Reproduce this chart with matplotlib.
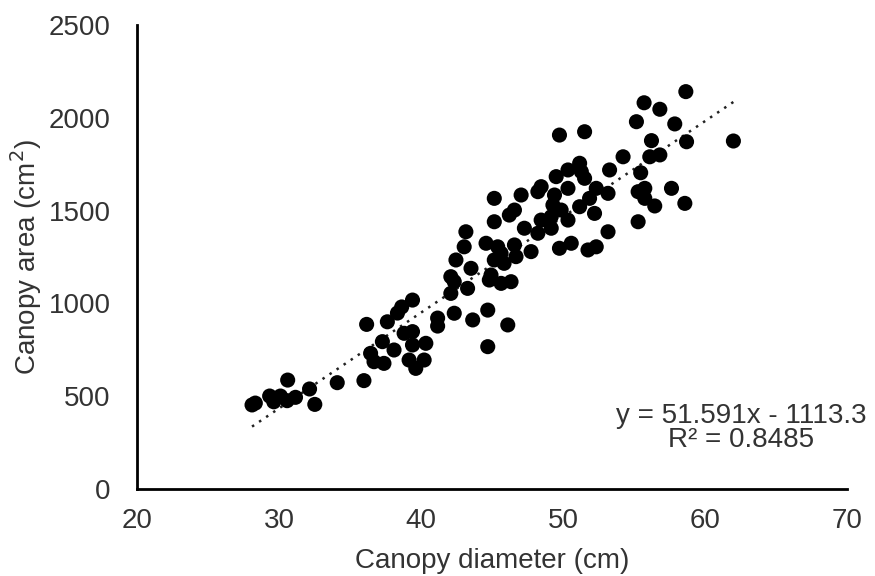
import matplotlib
matplotlib.use("Agg")
import matplotlib.pyplot as plt
import numpy as np

plt.rcParams['font.family'] = ['Liberation Sans', 'DejaVu Sans']

# Canopy diameter (cm)
diameter = [28.10, 28.33, 29.34, 30.10, 29.63, 30.57, 31.16, 30.61, 32.15, 32.52,
            34.10, 35.98, 36.17, 36.45, 36.69, 37.39, 37.28, 37.63, 38.34, 38.64,
            38.10, 38.81, 39.40, 39.40, 39.40, 39.16, 39.63, 40.22, 40.34, 41.17,
            41.17, 42.34, 43.64, 44.70, 46.11, 44.70, 42.10, 42.34, 42.10, 43.28,
            43.52, 42.46, 43.04, 43.16, 44.58, 44.93, 44.81, 45.64, 46.34, 45.16,
            45.64, 45.40, 46.58, 46.69, 47.28, 47.75, 45.16, 45.85,
            49.75, 51.52, 54.23, 53.28, 51.17, 51.29, 50.35, 49.52, 48.46, 50.35,
            49.40, 51.52, 52.34, 53.17, 47.05, 45.16, 48.23, 49.29, 49.87, 51.17,
            51.87, 52.22, 50.35, 49.17, 48.46, 46.58, 46.22, 49.17, 48.23, 53.17,
            49.75, 50.58, 51.76, 52.34,
            58.65, 55.71, 56.82, 55.17, 57.87, 62.00, 58.70, 56.23, 56.11, 56.82,
            55.47, 55.29, 55.76, 57.64, 55.76, 56.46, 58.58, 55.29]
# Canopy area (cm2)
area = [453, 463, 501, 501, 470, 476, 494, 587, 539, 456,
        573, 584, 887, 731, 686, 677, 794, 901, 948, 981,
        749, 839, 848, 1018, 776, 695, 650, 695, 785, 921,
        878, 947, 911, 964, 884, 767, 1054, 1117, 1144, 1081,
        1189, 1234, 1305, 1386, 1324, 1153, 1126, 1108, 1117, 1234,
        1270, 1305, 1315, 1252, 1405, 1279, 1440, 1216,
        1907, 1925, 1790, 1719, 1755, 1710, 1719, 1683, 1629, 1620,
        1584, 1674, 1620, 1593, 1584, 1566, 1602, 1530, 1503, 1521,
        1566, 1485, 1449, 1467, 1449, 1503, 1476, 1405, 1378, 1386,
        1297, 1324, 1288, 1305,
        2141, 2081, 2046, 1979, 1967, 1875, 1871, 1877, 1790, 1800,
        1704, 1602, 1620, 1620, 1566, 1525, 1539, 1440]

slope = 51.591
intercept = -1113.3
r2 = 0.8485

x_ticks = [20, 30, 40, 50, 60, 70]
y_ticks = [0, 500, 1000, 1500, 2000, 2500]

TXT = '#333333'
FS = 20

fig = plt.figure(figsize=(8.75, 5.76), dpi=100)
ax = fig.add_axes([0.1566, 0.151, 0.8114, 0.8056])

ax.scatter(diameter, area, s=118, color='black', edgecolors='none', zorder=3)

xs = np.array([min(diameter), max(diameter)])
ax.plot(xs, slope * xs + intercept, linestyle=(0, (1, 2.4)), color='#222222',
        linewidth=1.8, zorder=2)

ax.set_xlim(20, 70)
ax.set_ylim(0, 2500)
ax.set_xticks(x_ticks)
ax.set_yticks(y_ticks)
ax.tick_params(axis='both', length=0, labelsize=FS, colors=TXT)
ax.tick_params(axis='x', pad=14)
ax.tick_params(axis='y', pad=19)
for s in ['top', 'right']:
    ax.spines[s].set_visible(False)
for s in ['left', 'bottom']:
    ax.spines[s].set_linewidth(2.0)
    ax.spines[s].set_color('black')

ax.set_xlabel('Canopy diameter (cm)', fontsize=FS, color=TXT, labelpad=10)
ax.set_ylabel('Canopy area (cm$^2$)', fontsize=FS, color=TXT, labelpad=3)

ax.text(0.851, 0.1422, 'y = %.3fx - %.1f' % (slope, -intercept), transform=ax.transAxes,
        ha='center', va='baseline', fontsize=FS, color=TXT)
ax.text(0.851, 0.0905, 'R\u00b2 = %.4f' % r2, transform=ax.transAxes,
        ha='center', va='baseline', fontsize=FS, color=TXT)

fig.savefig('out.png', dpi=100)
